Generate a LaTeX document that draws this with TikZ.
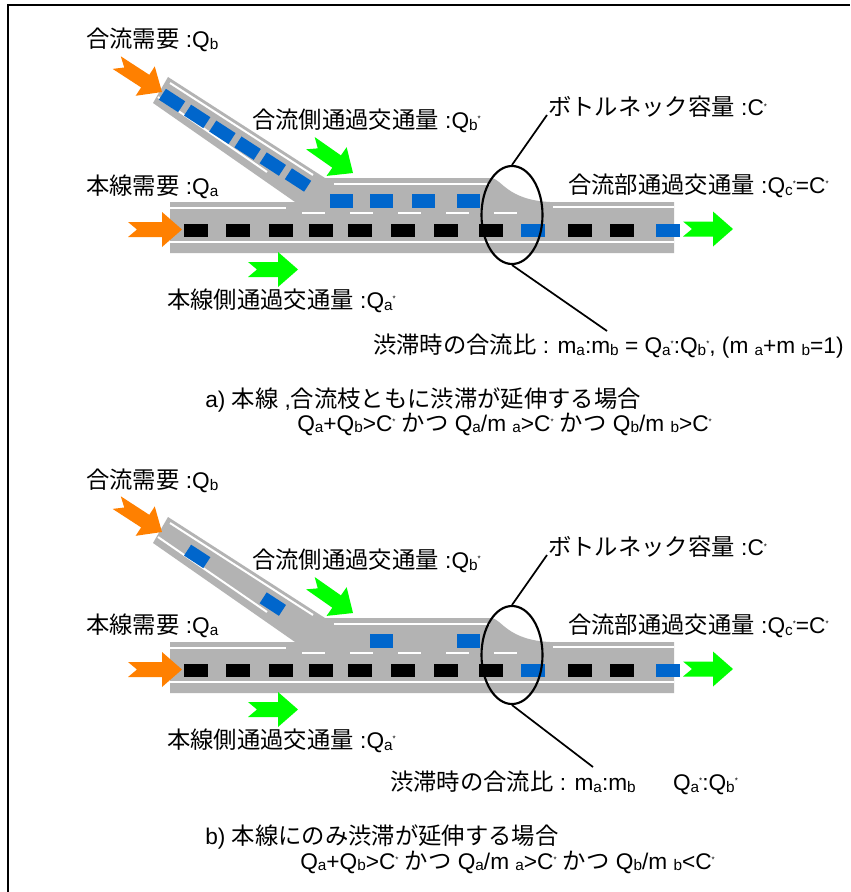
\documentclass[tikz,border=0pt]{standalone}
\usepackage{fontspec}
\setmainfont{Liberation Sans}
\newfontfamily\jpfam{Noto Sans CJK JP}
\usetikzlibrary{shapes.geometric}

\definecolor{roadgray}{RGB}{179,179,179}
\definecolor{carblue}{RGB}{0,102,204}
\definecolor{arrorange}{RGB}{255,128,0}
\definecolor{arrgreen}{RGB}{0,255,0}

% Japanese run, subscripts and the small star mark
\newcommand\jp[1]{{\jpfam\fontsize{17.5}{20}\selectfont #1}}
\newcommand\lsub[1]{\raisebox{-0.08em}{\fontsize{11.5}{12}\selectfont #1}}
\newcommand\lstar{\raisebox{0.3em}{\fontsize{6}{6}\selectfont *}}

% notched block arrow: tail centre x, y, angle, length, colour
\newcommand\blockarrow[5]{%
  \fill[#5, shift={(#1,#2)}, rotate=#3]
    (0,-7.5) -- ({#4-20},-7.5) -- ({#4-20},-17.5) -- (#4,0)
    -- ({#4-20},17.5) -- ({#4-20},7.5) -- (0,7.5) -- (9,0) -- cycle;}

% one merge section: road surface, markings, arrows and the bottleneck ellipse
\newcommand\roadsection[1]{%
  \fill[roadgray] (153,103) -- (168,77) -- (325,178) -- (492,178)
    .. controls (502,180) and (508,200) .. (550,202) -- (674,202)
    -- (674,253) -- (170,253) -- (170,202) -- (295,202) -- cycle;
  \draw[wline] (170,208) -- (286,208);
  \draw[wline] (170,242) -- (674,242);
  \draw[wline] (334,184) -- (490,184);
  \draw[wline] (553,207) -- (674,207);
  \draw[wline] (170,83) -- (313,175);
  \draw[wline] (158,97) -- (267,172);
  \foreach \x in {302,350,398,446,494} \draw[wline] (\x,213) -- ++(23,0);
  \foreach \x in {184,226,269,309,348,391,434,479,568,610}
    \fill[black] (\x,224) rectangle ++(24,13);
  \foreach \x in {521,656} \fill[carblue] (\x,224) rectangle ++(24,13);
  \blockarrow{128}{229.5}{0}{54}{arrorange}
  \blockarrow{116.7}{62.6}{-33}{54}{arrorange}
  \blockarrow{310.4}{143.2}{-35}{52}{arrgreen}
  \blockarrow{248}{269.5}{0}{50}{arrgreen}
  \blockarrow{683}{229}{0}{50}{arrgreen}
  \node[bneck] (bn#1) at (512,215) {};
}

\tikzset{
  wline/.style={white, line width=1.5pt},
  bneck/.style={draw, ellipse, line width=1.6pt, inner sep=0pt,
    minimum width=45.75pt, minimum height=73.5pt},
  leader/.style={line width=1.3pt},
  lbl/.style={anchor=west, inner sep=0pt, font=\fontsize{17}{20}\selectfont},
}

\begin{document}
\begin{tikzpicture}[x=0.75pt, y=-0.75pt]
\useasboundingbox (0,0) rectangle (850,892);
\fill[white] (0,0) rectangle (850,892);

% outer frame
\draw[line width=1.2pt] (8,892) -- (8,5) -- (850,5);

% ---------- a) upper section ----------
\begin{scope}
  \roadsection{A}
  \foreach \cx/\cy in {172/100.5,197.2/116.4,222.4/132.3,247.6/148.2,272.8/164.1,298/180}
    \fill[carblue, shift={(\cx,\cy)}, rotate=-33] (-11.5,-6.5) rectangle (11.5,6.5);
  \foreach \x in {330,370,412,457} \fill[carblue] (\x,194) rectangle ++(23,14);
\end{scope}

\node[lbl] (qbA) at (86,40) {\jp{合流需要} :Q\lsub{b}};
\node[lbl] (qbsA) at (252,121) {\jp{合流側通過交通量} :Q\lsub{b}\lstar};
\node[lbl] (capA) at (548,107) {\jp{ボトルネック容量} :C\lstar};
\node[lbl] (qaA) at (86,187) {\jp{本線需要} :Q\lsub{a}};
\node[lbl] (qcA) at (568,186) {\jp{合流部通過交通量} :Q\lsub{c}\lstar=C\lstar};
\node[lbl] (qasA) at (167,301) {\jp{本線側通過交通量} :Q\lsub{a}\lstar};
\node[lbl] (ratioA) at (373,346) {\jp{渋滞時の合流比} : m\lsub{a}:m\lsub{b} = Q\lsub{a}\lstar:Q\lsub{b}\lstar , (m \lsub{a}+m \lsub{b}=1)};
\node[lbl] (caseA) at (205,400) {a) \jp{本線} ,\jp{合流枝ともに渋滞が延伸する場合}};
\node[lbl] (condA) at (297,424) {Q\lsub{a}+Q\lsub{b}>C\lstar\ \jp{かつ} Q\lsub{a}/m \lsub{a}>C\lstar\ \jp{かつ} Q\lsub{b}/m \lsub{b}>C\lstar};

\coordinate (capAend) at (547,115);
\coordinate (ratioAend) at (607,331);
\draw[leader] (bnA.north) -- (capAend);
\draw[leader] (bnA.south) -- (ratioAend);

% ---------- b) lower section ----------
\begin{scope}[shift={(0,440)}]
  \roadsection{B}
  \foreach \cx/\cy in {197.2/116.4,272.8/164.1}
    \fill[carblue, shift={(\cx,\cy)}, rotate=-33] (-11.5,-6.5) rectangle (11.5,6.5);
  \foreach \x in {370,457} \fill[carblue] (\x,194) rectangle ++(23,14);
\end{scope}

\node[lbl] (qbB) at (86,481) {\jp{合流需要} :Q\lsub{b}};
\node[lbl] (qbsB) at (252,561) {\jp{合流側通過交通量} :Q\lsub{b}\lstar};
\node[lbl] (capB) at (548,547) {\jp{ボトルネック容量} :C\lstar};
\node[lbl] (qaB) at (86,626) {\jp{本線需要} :Q\lsub{a}};
\node[lbl] (qcB) at (568,626) {\jp{合流部通過交通量} :Q\lsub{c}\lstar=C\lstar};
\node[lbl] (qasB) at (167,741) {\jp{本線側通過交通量} :Q\lsub{a}\lstar};
\node[lbl] (ratioB) at (390,783) {\jp{渋滞時の合流比} : m\lsub{a}:m\lsub{b}\hspace{28pt}Q\lsub{a}\lstar:Q\lsub{b}\lstar};
\node[lbl] (caseB) at (205,837) {b) \jp{本線にのみ渋滞が延伸する場合}};
\node[lbl] (condB) at (300,862) {Q\lsub{a}+Q\lsub{b}>C\lstar\ \jp{かつ} Q\lsub{a}/m \lsub{a}>C\lstar\ \jp{かつ} Q\lsub{b}/m \lsub{b}<C\lstar};

\coordinate (capBend) at (547,555);
\coordinate (ratioBend) at (593,767);
\draw[leader] (bnB.north) -- (capBend);
\draw[leader] (bnB.south) -- (ratioBend);
\end{tikzpicture}
\end{document}
